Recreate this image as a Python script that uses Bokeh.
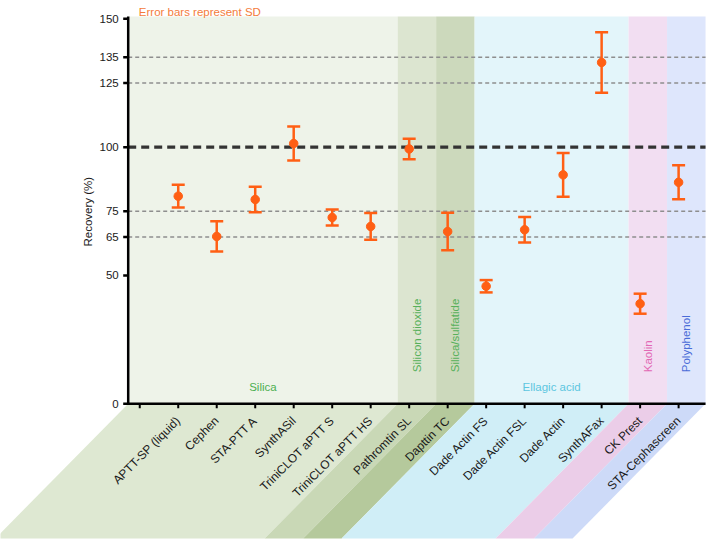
import math
from bokeh.plotting import figure
from bokeh.models import Range1d
from bokeh.core.properties import value
from bokeh.embed import file_html
from bokeh.resources import INLINE

# ---------------- data ----------------
categories = ["", "APTT-SP (liquid)", "Cephen", "STA-PTT A", "SynthASil",
              "TriniCLOT aPTT S", "TriniCLOT aPTT HS", "Pathromtin SL", "Dapttin TC",
              "Dade Actin FS", "Dade Actin FSL", "Dade Actin", "SynthAFax",
              "CK Prest", "STA-Cephascreen"]
recovery = [80.9, 65.2, 79.6, 101.4, 72.6, 69.1, 99.3, 67.1, 45.8, 67.8, 89.2, 133.0, 39.0, 86.3]
sd = [4.4, 5.9, 5.0, 6.6, 3.1, 5.2, 4.0, 7.3, 2.4, 5.0, 8.5, 11.8, 3.9, 6.6]

group_names = ["Silica", "Silicon dioxide", "Silica/sulfatide", "Ellagic acid", "Kaolin", "Polyphenol"]
group_first = [0, 7, 8, 9, 13, 14]
group_last = [6, 7, 8, 12, 13, 14]
group_vertical = [False, True, True, False, True, True]
upper_colors = ["#EEF3E9", "#DCE5D0", "#CCD9BC", "#E3F5FA", "#F2DEF2", "#DEE6FC"]
lower_colors = ["#DEE8D2", "#C9D8B6", "#B5C99C", "#D0EEF7", "#EBCDE8", "#CDDAF8"]
label_colors = ["#4CAF50", "#57B05A", "#57B05A", "#5CC6E0", "#E268B4", "#4A6CD8"]

y_ticks = [0, 50, 65, 75, 100, 125, 135, 150]
gray_lines = [65, 75, 125, 135]
black_line = 100

# ---------------- geometry ----------------
W, H = 709, 540
PX = 38.49                 # px per x unit
PY = 385.0 / 150.0         # px per y unit
AXIS_PX = 127.7            # screen x of y axis
ZERO_PY = 403.3            # screen y of value 0
X_LEFT = -0.3
X_RIGHT = 14.7
X_START = X_LEFT - AXIS_PX / PX
X_END = X_START + W / PX
Y_TOP = ZERO_PY / PY
Y_BOTTOM = -(H - ZERO_PY) / PY
BAND_TOP = (ZERO_PY - 16.0) / PY
LOW_BOTTOM = -(538.0 - ZERO_PY) / PY
SLANT = 133.0 / PX

orange = "#FF5F14"
font = value("Liberation Sans")

p = figure(width=W, height=H, x_range=Range1d(X_START, X_END),
           y_range=Range1d(Y_BOTTOM, Y_TOP), output_backend="svg",
           toolbar_location=None, x_axis_location=None, y_axis_location=None,
           min_border_left=0, min_border_right=0, min_border_top=0, min_border_bottom=0,
           outline_line_color=None, background_fill_color="white",
           border_fill_color="white")
p.grid.visible = False

# bands
lefts = [f - 0.3 for f in group_first]
rights = [l + 0.7 for l in group_last]
p.quad(left=lefts, right=rights, bottom=0, top=BAND_TOP,
       fill_color=upper_colors, line_color=None)
p.patches(xs=[[a, b, b - SLANT, a - SLANT] for a, b in zip(lefts, rights)],
          ys=[[0, 0, LOW_BOTTOM, LOW_BOTTOM] for _ in lefts],
          fill_color=lower_colors, line_color=None)

# reference lines
for v in gray_lines:
    p.segment(x0=X_LEFT, y0=v, x1=X_RIGHT, y1=v, line_color="#8E8E8E",
              line_width=1.5, line_dash="4 3")
p.segment(x0=X_LEFT, y0=black_line, x1=X_RIGHT, y1=black_line, line_color="#333333",
          line_width=3.2, line_dash="8 5")

# group labels
for name, a, b, vert, col in zip(group_names, lefts, rights, group_vertical, label_colors):
    cx = (a + b) / 2
    if vert:
        p.text(x=[cx], y=[31.6 / PY], text=[name], angle=math.pi / 2, text_align="left",
               text_baseline="middle", text_font=font, text_font_size="11.5px",
               text_color=col)
    else:
        p.text(x=[cx], y=[17.0 / PY], text=[name], text_align="center",
               text_baseline="alphabetic", text_font=font, text_font_size="11.5px",
               text_color=col)

# data: error bars + points
xs = list(range(1, len(categories)))
upper = [m + s for m, s in zip(recovery, sd)]
lower = [m - s for m, s in zip(recovery, sd)]
cap = 6.5 / PX
p.segment(x0=xs, y0=lower, x1=xs, y1=upper, line_color=orange, line_width=2.5)
p.segment(x0=[x - cap for x in xs], y0=upper, x1=[x + cap for x in xs], y1=upper,
          line_color=orange, line_width=2.5)
p.segment(x0=[x - cap for x in xs], y0=lower, x1=[x + cap for x in xs], y1=lower,
          line_color=orange, line_width=2.5)
p.scatter(x=xs, y=recovery, size=8.5, color=orange)

# x axis (drawn)
p.segment(x0=X_LEFT - 1.25 / PX, y0=0, x1=X_RIGHT, y1=0, line_color="black", line_width=2.5)
ticks_x = list(range(len(categories)))
p.segment(x0=ticks_x, y0=[0] * len(ticks_x), x1=ticks_x, y1=[-4.5 / PY] * len(ticks_x),
          line_color="black", line_width=2)
p.text(x=ticks_x, y=[-15.0 / PY] * len(ticks_x), text=categories, angle=math.pi / 4,
       text_align="right", text_baseline="middle", text_font=font,
       text_font_size="12px", text_color="#1A1A1A")

# y axis (drawn)
p.segment(x0=X_LEFT, y0=-1.25 / PY, x1=X_LEFT, y1=BAND_TOP, line_color="black", line_width=2.5)
p.segment(x0=[X_LEFT] * len(y_ticks), y0=y_ticks, x1=[X_LEFT - 5.0 / PX] * len(y_ticks),
          y1=y_ticks, line_color="black", line_width=2.5)
p.text(x=[X_LEFT - 9.5 / PX] * len(y_ticks), y=y_ticks, text=[str(t) for t in y_ticks],
       text_align="right", text_baseline="middle", text_font=font,
       text_font_size="11.5px", text_color="#1A1A1A")
p.text(x=[X_START + 87.5 / PX], y=[(ZERO_PY - 211.2) / PY], text=["Recovery (%)"],
       angle=math.pi / 2, text_align="center", text_baseline="middle", text_font=font,
       text_font_size="11.5px", text_color="#1A1A1A")

# title note
p.text(x=[X_START + 138.3 / PX], y=[(ZERO_PY - 11.0) / PY], text=["Error bars represent SD"],
       text_align="left", text_baseline="alphabetic", text_font=font,
       text_font_size="11.5px", text_color="#F47B3B")

open("out.html", "w").write(file_html(p, INLINE))
